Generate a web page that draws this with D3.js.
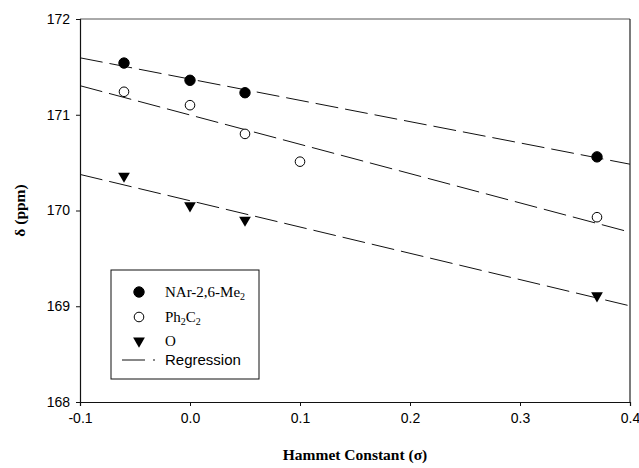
<!DOCTYPE html>
<html>
<head>
<meta charset="utf-8">
<script src="https://cdnjs.cloudflare.com/ajax/libs/d3/7.8.5/d3.min.js"></script>
<style>
  body { margin: 0; background: #fff; }
  svg text { fill: #000; }
</style>
</head>
<body>
<div class="canvas"></div>
<script>
// data
const sigmaNAr = [-0.06, 0.0, 0.05, 0.37];
const shiftNAr = [171.54, 171.36, 171.23, 170.56];
const sigmaPh = [-0.06, 0.0, 0.05, 0.10, 0.37];
const shiftPh = [171.24, 171.10, 170.80, 170.51, 169.93];
const sigmaO = [-0.06, 0.0, 0.05, 0.37];
const shiftO = [170.36, 170.05, 169.90, 169.11];
const xTicks = [-0.1, 0.0, 0.1, 0.2, 0.3, 0.4];
const yTicks = [168, 169, 170, 171, 172];

const svg = d3.select('.canvas').append('svg')
  .attr('width', 639)
  .attr('height', 468);

const margins = {top: 19, right: 9, bottom: 66, left: 80};
const graphWidth = 639 - margins.left - margins.right;
const graphHeight = 468 - margins.top - margins.bottom;

const graph = svg.append('g')
  .attr('transform', `translate(${margins.left}, ${margins.top})`);

const x = d3.scaleLinear().domain([-0.1, 0.4]).range([0, graphWidth]);
const y = d3.scaleLinear().domain([168, 172]).range([graphHeight, 0]);

// frame (top & right)
graph.append('line')
  .attr('x1', 0).attr('x2', graphWidth).attr('y1', 0).attr('y2', 0)
  .attr('stroke', '#555').attr('stroke-width', 1);
graph.append('line')
  .attr('x1', graphWidth).attr('x2', graphWidth).attr('y1', 0).attr('y2', graphHeight)
  .attr('stroke', '#222').attr('stroke-width', 1.2);

// axes
const xAxis = d3.axisBottom(x)
  .tickValues(xTicks)
  .tickSize(4)
  .tickPadding(7)
  .tickFormat(d => d3.format('.1f')(d).replace('−', '-'));
const yAxis = d3.axisLeft(y)
  .tickValues(yTicks)
  .tickSize(4)
  .tickPadding(6)
  .tickFormat(d3.format('d'));

const xAxisGroup = graph.append('g')
  .attr('transform', `translate(0, ${graphHeight})`)
  .call(xAxis);
const yAxisGroup = graph.append('g').call(yAxis);

[xAxisGroup, yAxisGroup].forEach(g => {
  g.select('.domain').attr('stroke', '#111').attr('stroke-width', 1.2);
  g.selectAll('.tick line').attr('stroke', '#111');
  g.selectAll('text')
    .attr('font-family', '"Liberation Sans", Arial, sans-serif')
    .attr('font-size', 14)
    .attr('fill', '#000');
});

// least squares fit for each series
function fit(xs, ys) {
  const mx = d3.mean(xs), my = d3.mean(ys);
  let sxy = 0, sxx = 0;
  xs.forEach((v, i) => { sxy += (v - mx) * (ys[i] - my); sxx += (v - mx) * (v - mx); });
  const b = sxy / sxx;
  return s => my + b * (s - mx);
}

const series = [
  {xs: sigmaNAr, ys: shiftNAr, mark: 'filled'},
  {xs: sigmaPh, ys: shiftPh, mark: 'open'},
  {xs: sigmaO, ys: shiftO, mark: 'tri'}
];

const line = d3.line().x(d => x(d[0])).y(d => y(d[1]));

series.forEach(s => {
  const f = fit(s.xs, s.ys);
  graph.append('path')
    .datum(x.domain().map(v => [v, f(v)]))
    .attr('d', line)
    .attr('fill', 'none')
    .attr('stroke', '#111')
    .attr('stroke-width', 1)
    .attr('stroke-dasharray', '23,7');
});

const triangle = d3.symbol().type(d3.symbolTriangle).size(60);

function drawMark(sel, kind) {
  if (kind === 'tri') {
    sel.append('path')
      .attr('d', triangle)
      .attr('transform', 'rotate(180)')
      .attr('fill', '#000');
  } else {
    sel.append('circle')
      .attr('r', kind === 'filled' ? 5.2 : 4.8)
      .attr('fill', kind === 'filled' ? '#000' : '#fff')
      .attr('stroke', '#000')
      .attr('stroke-width', 1);
  }
}

series.forEach(s => {
  const pts = graph.append('g').selectAll('g')
    .data(s.xs.map((v, i) => [v, s.ys[i]]))
    .enter()
    .append('g')
    .attr('transform', d => `translate(${x(d[0])}, ${y(d[1])})`);
  drawMark(pts, s.mark);
});

// legend
const legend = svg.append('g').attr('transform', 'translate(111, 270)');
legend.append('rect')
  .attr('width', 148).attr('height', 109)
  .attr('fill', '#fff').attr('stroke', '#111').attr('stroke-width', 1);

const legendItems = [
  {mark: 'filled', label: 'NAr-2,6-Me', sub: '2', y: 22},
  {mark: 'open', label: 'Ph', y: 47},
  {mark: 'tri', label: 'O', y: 71}
];

legendItems.forEach(item => {
  const g = legend.append('g').attr('transform', `translate(28, ${item.y})`);
  drawMark(g, item.mark);
  const t = legend.append('text')
    .attr('x', 54).attr('y', item.y + 5)
    .attr('font-family', '"Liberation Serif", "Times New Roman", serif')
    .attr('font-size', 15);
  if (item.mark === 'open') {
    t.append('tspan').text('Ph');
    t.append('tspan').attr('font-size', 10).attr('dy', 3).text('2');
    t.append('tspan').attr('dy', -3).text('C');
    t.append('tspan').attr('font-size', 10).attr('dy', 3).text('2');
  } else {
    t.append('tspan').text(item.label);
    if (item.sub) t.append('tspan').attr('font-size', 10).attr('dy', 3).text(item.sub);
  }
});

legend.append('line')
  .attr('x1', 11).attr('x2', 34).attr('y1', 90).attr('y2', 90)
  .attr('stroke', '#111').attr('stroke-width', 1);
legend.append('line')
  .attr('x1', 42).attr('x2', 44).attr('y1', 90).attr('y2', 90)
  .attr('stroke', '#111').attr('stroke-width', 1);
legend.append('text')
  .attr('x', 54).attr('y', 95)
  .attr('font-family', '"Liberation Sans", Arial, sans-serif')
  .attr('font-size', 15)
  .text('Regression');

// axis titles
svg.append('text')
  .attr('x', margins.left + graphWidth / 2)
  .attr('y', 460)
  .attr('text-anchor', 'middle')
  .attr('font-family', '"Liberation Serif", "Times New Roman", serif')
  .attr('font-weight', 'bold')
  .attr('font-size', 15.5)
  .text('Hammet Constant (σ)');

svg.append('text')
  .attr('transform', `translate(25, ${margins.top + graphHeight / 2}) rotate(-90)`)
  .attr('text-anchor', 'middle')
  .attr('font-family', '"Liberation Serif", "Times New Roman", serif')
  .attr('font-weight', 'bold')
  .attr('font-size', 15.5)
  .text('δ (ppm)');
</script>
</body>
</html>
